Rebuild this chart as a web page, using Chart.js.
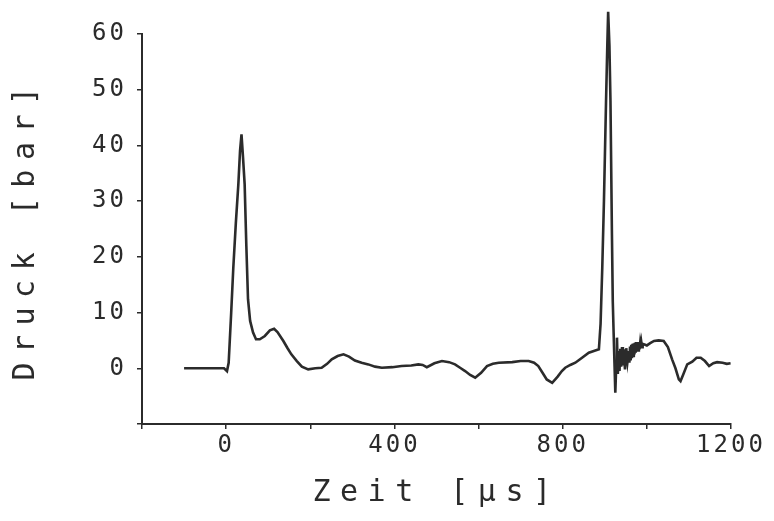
<!DOCTYPE html>
<html>
<head>
<meta charset="utf-8">
<script src="https://cdn.jsdelivr.net/npm/chart.js@4"></script>
<style>
  html, body { margin: 0; padding: 0; background: #fff; }
  #wrap { width: 774px; height: 521px; }
</style>
</head>
<body>
<div id="wrap"><canvas id="druck"></canvas></div>
<script>
// Zeit in µs, Druck in bar
const timeUs = [
    -100, -50, -5, 2, 6, 12, 17, 23, 29, 33, 36.5, 40, 44, 48, 52, 57, 64, 71, 80, 92,
    104, 114, 122, 136, 146, 155, 168, 180, 195, 212, 227, 240, 251, 265, 279, 292, 306, 322, 338, 354,
    370, 395, 417, 440, 457, 467, 477, 495, 513, 530, 544, 556, 568, 580, 592, 606, 620, 634, 648, 680,
    700, 719, 732, 742, 752, 762, 775, 788, 798, 806, 818, 830, 846, 862, 874, 886, 890, 894, 898, 903,
    906, 908, 911, 913.5, 917, 919, 921, 923, 925, 927, 929, 931, 933, 935, 937, 939, 941, 943, 945, 948,
    951, 954, 957, 958.5, 960, 961.5, 963, 964.5, 966, 967.5, 969, 970.5, 972, 973.5, 975, 976.5, 978, 979.5, 981, 982.5,
    984, 985.5, 987, 988.5, 990, 993, 1000, 1008, 1017, 1028, 1040,
    1050, 1060, 1068, 1076, 1080, 1086, 1096, 1108, 1118, 1128, 1138, 1148, 1158, 1167, 1180, 1190, 1199
];
const pressureBar = [
    0, 0, 0, -0.5, 1, 10, 18, 26, 33, 39, 42, 38, 33, 22, 12.4, 8.5, 6.4, 5.2, 5.2, 5.8,
    6.8, 7.1, 6.5, 4.9, 3.6, 2.5, 1.3, 0.3, -0.2, 0, 0.1, 0.8, 1.6, 2.2, 2.5, 2.1, 1.4, 1.0, 0.7, 0.3,
    0.1, 0.2, 0.4, 0.5, 0.7, 0.6, 0.2, 0.9, 1.3, 1.1, 0.7, 0.1, -0.5, -1.2, -1.7, -0.8, 0.4, 0.8, 1.0, 1.1,
    1.3, 1.3, 1.0, 0.4, -0.8, -2.0, -2.6, -1.5, -0.5, 0.1, 0.6, 1.0, 1.9, 2.8, 3.1, 3.4, 8, 18, 30, 48,
    58, 64, 58, 48, 24, 12, 6.4, 1, -4.4, 0, 5.5, -1, 3.1, -0.5, 3.5, 0.3, 3.8, 0.5, 3.4, -0.2,
    3.6, 1.2, 3.1, 1.0, 3.9, 1.4, 4.2, 1.8, 4.4, 2.2, 4.5, 2.5, 4.6, 2.8, 4.7, 3.0, 4.6, 3.2, 4.7, 3.4,
    4.5, 3.6, 4.6, 3.8, 4.4, 4.3, 4.1, 4.5, 4.9, 5.0, 4.9,
    3.8, 1.6, 0.0, -2.0, -2.3, -1.2, 0.7, 1.2, 1.9, 1.9, 1.3, 0.4, 0.9, 1.1, 1.0, 0.8, 0.9
];
const xTicksShown = [0, 400, 800, 1200];

const ink = '#2b2b2b';
const plotFont = "'DejaVu Sans Mono', monospace";

// Plotterschrift: gesperrte Buchstaben
const spacing = {
    id: 'spacing',
    beforeDraw(chart) {
        chart.ctx.letterSpacing = '3px';
        Object.values(chart.scales).forEach(s => {
            if (s._spaced) return;
            const orig = s.drawTitle.bind(s);
            s.drawTitle = function () {
                this.ctx.save();
                this.ctx.letterSpacing = '9.5px';
                orig();
                this.ctx.restore();
            };
            s._spaced = true;
        });
    }
};

const data = {
    datasets: [{
        data: timeUs.map((t, i) => ({ x: t, y: pressureBar[i] })),
        borderColor: ink,
        borderWidth: 2.6,
        pointRadius: 0,
        tension: 0,
        clip: false
    }]
};

const config = {
    type: 'line',
    data: data,
    options: {
        responsive: true,
        maintainAspectRatio: false,
        animation: false,
        layout: { padding: { top: 34, right: 43, bottom: 0, left: 0 } },
        plugins: { legend: { display: false }, tooltip: { enabled: false } },
        scales: {
            x: {
                type: 'linear',
                min: -200,
                max: 1200,
                afterFit: s => { s.height = 97; },
                border: { display: true, color: ink, width: 2 },
                grid: { drawOnChartArea: false, drawTicks: true, tickLength: 5, color: ink, lineWidth: 1.5 },
                ticks: {
                    stepSize: 200,
                    autoSkip: false,
                    maxRotation: 0,
                    padding: 2,
                    color: ink,
                    font: { family: plotFont, size: 24 },
                    callback: v => xTicksShown.includes(v) ? String(v) : ''
                },
                title: {
                    display: true,
                    text: 'Zeit [µs]',
                    color: ink,
                    font: { family: plotFont, size: 30 },
                    padding: { top: 0, bottom: 10 }
                }
            },
            y: {
                min: -10,
                max: 60,
                afterFit: s => { s.width = 142; },
                border: { display: true, color: ink, width: 2 },
                grid: { drawOnChartArea: false, drawTicks: true, tickLength: 5, color: ink, lineWidth: 1.5 },
                ticks: {
                    stepSize: 10,
                    padding: 10,
                    color: ink,
                    font: { family: plotFont, size: 24 },
                    callback: v => v < 0 ? '' : String(v)
                },
                title: {
                    display: true,
                    text: 'Druck [bar]',
                    color: ink,
                    font: { family: plotFont, size: 30 },
                    padding: { top: 8, bottom: 0 }
                }
            }
        }
    },
    plugins: [spacing]
};

new Chart(document.getElementById('druck'), config);
</script>
</body>
</html>
